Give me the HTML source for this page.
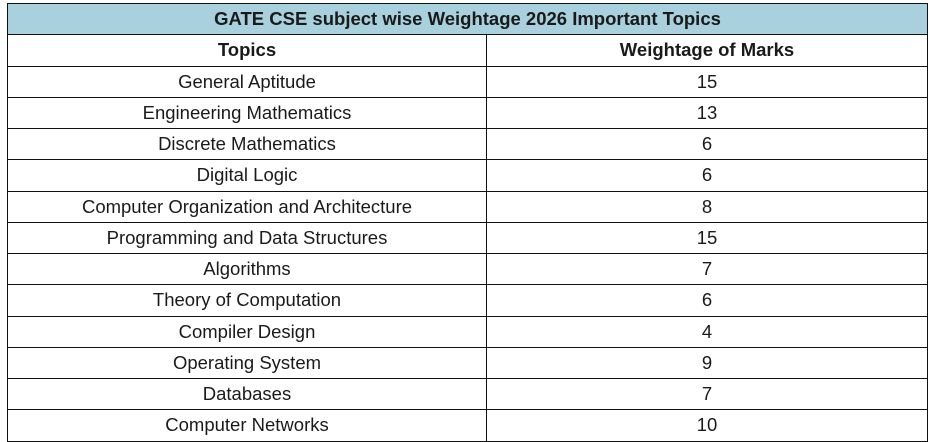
<!DOCTYPE html>
<html><head><meta charset="utf-8"><style>
body{margin:0;width:944px;height:441px;background:#fff;font-family:"Liberation Sans","DejaVu Sans",sans-serif;color:#1a1a1a;overflow:hidden}
table{position:absolute;left:7px;top:3px;width:921px;border-collapse:collapse;table-layout:fixed}
td,th{border:1.5px solid #111;height:31.25px;padding:0;text-align:center;font-size:18.5px;font-weight:normal;box-sizing:border-box}
th{font-weight:bold}
.title{background:#a8d0dd;font-weight:bold}
</style></head><body>
<table>
<colgroup><col style="width:479px"><col></colgroup>
<tr><th class="title" colspan="2">GATE CSE subject wise Weightage 2026 Important Topics</th></tr>
<tr><th>Topics</th><th>Weightage of Marks</th></tr>
<tr><td>General Aptitude</td><td>15</td></tr>
<tr><td>Engineering Mathematics</td><td>13</td></tr>
<tr><td>Discrete Mathematics</td><td>6</td></tr>
<tr><td>Digital Logic</td><td>6</td></tr>
<tr><td>Computer Organization and Architecture</td><td>8</td></tr>
<tr><td>Programming and Data Structures</td><td>15</td></tr>
<tr><td>Algorithms</td><td>7</td></tr>
<tr><td>Theory of Computation</td><td>6</td></tr>
<tr><td>Compiler Design</td><td>4</td></tr>
<tr><td>Operating System</td><td>9</td></tr>
<tr><td>Databases</td><td>7</td></tr>
<tr><td>Computer Networks</td><td>10</td></tr>
</table>
</body></html>
